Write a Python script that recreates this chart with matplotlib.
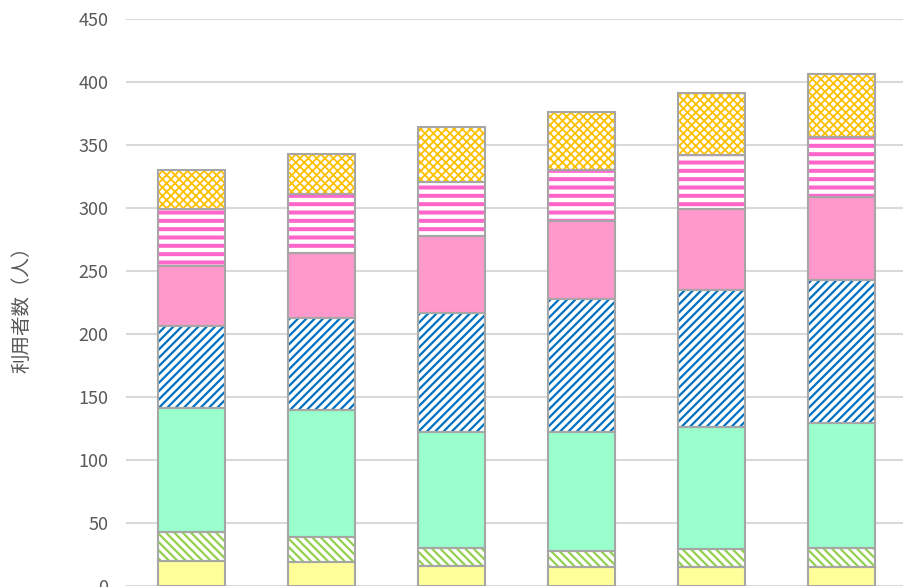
import matplotlib
matplotlib.use('Agg')
import matplotlib.pyplot as plt
import numpy as np

plt.rcParams['font.family'] = ['Noto Sans CJK JP', 'DejaVu Sans']

# segment heights, bottom to top
years = ['1', '2', '3', '4', '5', '6']
seg1 = [20, 19, 16, 15, 15, 15]
seg2 = [23, 20, 14, 13, 14, 15]
seg3 = [98, 101, 92, 94, 97, 99]
seg4 = [65, 73, 95, 106, 109, 114]
seg5 = [48, 51, 61, 62, 64, 66]
seg6 = [45, 47, 43, 40, 43, 47]
seg7 = [31, 32, 43, 46, 49, 50]

series = [seg1, seg2, seg3, seg4, seg5, seg6, seg7]
# (face colour, hatch colour, hatch, hatch linewidth)
styles = [
    ('#FFFF99', None, None, 0),
    ('white', '#92D050', '\\\\\\\\', 1.6),
    ('#99FFCC', None, None, 0),
    ('white', '#0070C0', '////', 1.6),
    ('#FF99CC', None, None, 0),
    ('white', '#FF66CC', '--', 2.9),
    ('white', '#FFC000', 'xxxx', 1.3),
]

fig = plt.figure(figsize=(9.04, 5.87), dpi=100)
W, H = 904, 587
ax = fig.add_axes([126.5 / W, 1 / H, 780 / W, (586 - 19) / H])

x = np.arange(len(years))
bottom = np.zeros(len(years))
for vals, (fc, hc, hatch, hlw) in zip(series, styles):
    vals = np.array(vals, dtype=float)
    if hatch:
        with plt.rc_context({'hatch.linewidth': hlw, 'hatch.color': hc}):
            ax.bar(x, vals, 0.52, bottom=bottom, color=fc, edgecolor=hc,
                   hatch=hatch, linewidth=0, zorder=2)
    else:
        ax.bar(x, vals, 0.52, bottom=bottom, color=fc, linewidth=0, zorder=2)
    ax.bar(x, vals, 0.52, bottom=bottom, fill=False, edgecolor='#A6A6A6',
           linewidth=1.5, zorder=3)
    bottom += vals

ax.set_xlim(-0.5, 5.5)
ax.set_ylim(0, 450)
ax.set_yticks(range(0, 451, 50))
ax.set_xticks([])
ax.grid(axis='y', color='#D9D9D9', linewidth=1.5, zorder=0)
for s in ax.spines.values():
    s.set_visible(False)
ax.tick_params(axis='y', length=0, pad=13, labelsize=13, labelcolor='#595959')

fig.text(22 / W, 1 - 305 / H, '利用者数（人）', rotation=90, ha='center',
         va='center', fontsize=14, color='#595959')

fig.savefig('out.png', dpi=100)
